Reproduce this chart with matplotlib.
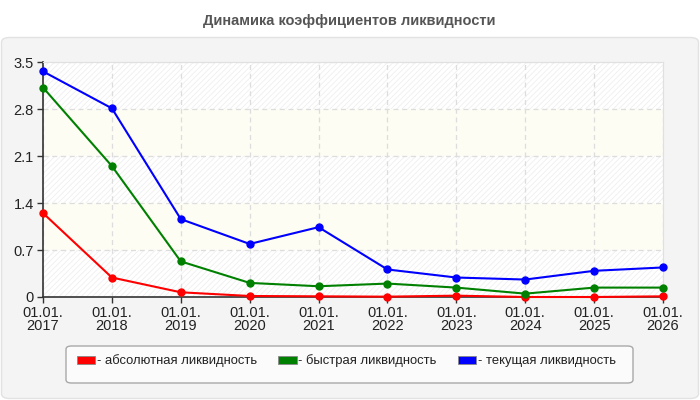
import matplotlib
matplotlib.use("Agg")
import matplotlib.pyplot as plt
from matplotlib.patches import FancyBboxPatch, Patch

plt.rcParams['font.family'] = ['Liberation Sans', 'DejaVu Sans']
plt.rcParams['hatch.color'] = '#ececec'
plt.rcParams['hatch.linewidth'] = 0.6

years = ['2017', '2018', '2019', '2020', '2021', '2022', '2023', '2024', '2025', '2026']
tick_labels = ['01.01.\n' + y for y in years]
absolute = [1.25, 0.29, 0.07, 0.015, 0.01, 0.005, 0.02, 0.0, 0.0, 0.01]
quick = [3.12, 1.95, 0.53, 0.21, 0.16, 0.20, 0.14, 0.05, 0.14, 0.14]
current = [3.36, 2.81, 1.16, 0.79, 1.04, 0.41, 0.29, 0.26, 0.39, 0.44]
yticks = [0, 0.7, 1.4, 2.1, 2.8, 3.5]
ytick_labels = ['0', '0.7', '1.4', '2.1', '2.8', '3.5']
series_names = ['- абсолютная ликвидность', '- быстрая ликвидность', '- текущая ликвидность']
colors = ['#ff0000', '#008000', '#0000ff']

fig = plt.figure(figsize=(7, 4), dpi=100)
fig.patch.set_facecolor('white')

panel = FancyBboxPatch((1.5 / 700, 1.5 / 400), 697 / 700, 361 / 400,
                       boxstyle='round,pad=0,rounding_size=0.012',
                       transform=fig.transFigure, facecolor='#f4f4f4',
                       edgecolor='#e2e2e2', linewidth=1, zorder=-10)
fig.patches.append(panel)

legbox = FancyBboxPatch((66 / 700, 1 - 383 / 400), 567 / 700, 37 / 400,
                        boxstyle='round,pad=0,rounding_size=0.008',
                        transform=fig.transFigure, facecolor='#fbfbfb',
                        edgecolor='#a8a8a8', linewidth=1, zorder=-5)
fig.patches.append(legbox)

fig.text(349 / 700, 1 - 21 / 400, 'Динамика коэффициентов ликвидности',
         ha='center', va='center', fontsize=10.5, fontweight='bold', color='#555555')

ax = fig.add_axes([43 / 700, 1 - 297 / 400, 620 / 700, 235 / 400])
ax.set_facecolor('white')
x = list(range(len(years)))
ax.set_xlim(0, len(years) - 1)
ax.set_ylim(0, 3.5)

for i in range(len(yticks) - 1):
    if i % 2 == 0:
        ax.axhspan(yticks[i], yticks[i + 1], facecolor='white', hatch='//////',
                   edgecolor='#efefef', linewidth=0, zorder=0)
    else:
        ax.axhspan(yticks[i], yticks[i + 1], facecolor='#fdfdf4', linewidth=0, zorder=0)

ax.grid(True, color='#dddddd', linestyle=(0, (4, 3)), linewidth=0.9, zorder=1)
ax.set_axisbelow(True)

for vals, c, n in zip([absolute, quick, current], colors, series_names):
    ax.plot(x, vals, color=c, linewidth=1.5, marker='o', markersize=5,
            label=n, zorder=3, clip_on=False)

ax.set_xticks(x)
ax.set_xticklabels(tick_labels, fontsize=10.5, color='#222222', linespacing=0.9)
ax.set_yticks(yticks)
ax.set_yticklabels(ytick_labels, fontsize=10.5, color='#222222')
ax.tick_params(axis='both', length=4, width=1, color='#333333', pad=2.5)

for s in ['top', 'right']:
    ax.spines[s].set_color('#e0e0e0')
for s in ['left', 'bottom']:
    ax.spines[s].set_color('#333333')
    ax.spines[s].set_linewidth(1.2)

handles = [Patch(facecolor=c, edgecolor='#888888', linewidth=0.6) for c in colors]
leg = fig.legend(handles, series_names, loc='center left', ncol=3,
                 bbox_to_anchor=(77 / 700, 1 - 361 / 400),
                 frameon=False, fontsize=9.4,
                 handlelength=1.4, handleheight=0.52, handletextpad=0.15,
                 borderpad=0, borderaxespad=0, columnspacing=1.6)
for t in leg.get_texts():
    t.set_color('#222222')

fig.savefig('out.png', dpi=100, facecolor=fig.get_facecolor())
